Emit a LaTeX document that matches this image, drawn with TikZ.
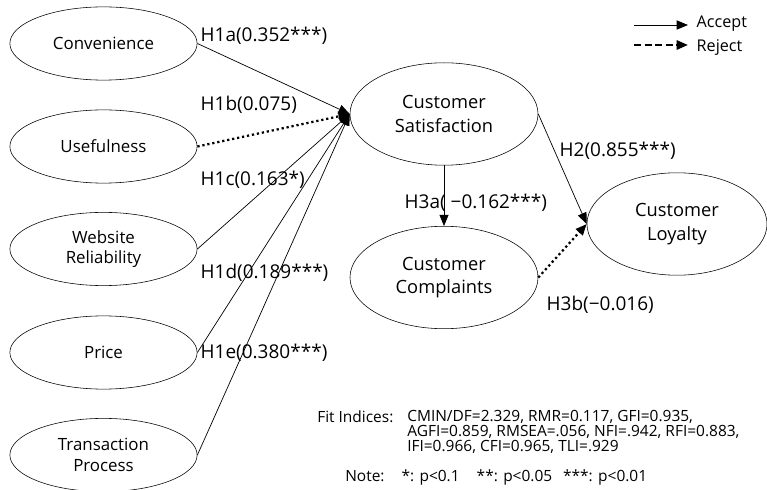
\documentclass[tikz,border=0pt]{standalone}
\usepackage{fontspec}
\setmainfont{Open Sans}
\usepackage{tikz}
\usetikzlibrary{arrows.meta,shapes.geometric}

\begin{document}
\begin{tikzpicture}[x=0.025cm, y=-0.025cm, >={Triangle[length=8pt, width=6.5pt]},
  construct/.style={draw, ellipse, inner sep=0pt, align=center, font=\fontsize{12}{14.5}\selectfont, minimum width=4.68cm, minimum height=1.83cm},
  bigconstruct/.style={construct, font=\fontsize{13}{16.5}\selectfont, minimum width=4.7cm, minimum height=2.56cm},
  path label/.style={anchor=west, inner sep=1pt, font=\fontsize{13.5}{16}\selectfont},
  legend label/.style={anchor=west, inner sep=1pt, font=\fontsize{11.5}{13}\selectfont},
  accept/.style={->, line width=0.5pt},
  reject/.style={->, line width=1.6pt, dotted}]
\useasboundingbox (0,0) rectangle (767,490);
% LEFT: antecedents
\node[construct] (conv) at (103.5,43.5) {Convenience};
\node[construct] (use) at (103.5,146.5) {Usefulness};
\node[construct] (web) at (103.5,249) {Website\\Reliability};
\node[construct] (price) at (103.5,352.5) {Price};
\node[construct] (trans) at (103.5,455) {Transaction\\Process};
% RIGHT: outcomes
\node[bigconstruct] (sat) at (444,114) {Customer\\Satisfaction};
\node[bigconstruct] (comp) at (444,277.5) {Customer\\Complaints};
\node[bigconstruct, minimum width=4.5cm] (loy) at (677,224) {Customer\\Loyalty};
% paths
\foreach \n in {conv,web,price,trans} {\draw[accept] (\n.east) -- (sat.west);}
\draw[reject] (use.east) -- (sat.west);
\draw[accept] (sat.south) -- (comp.north);
\draw[accept] (sat.east) -- (loy.west);
\draw[reject] (comp.east) -- (loy.west);
% path coefficients
\node[path label] (h1a) at (199,36) {H1a(0.352***)};
\node[path label] (h1b) at (199,105) {H1b(0.075)};
\node[path label] (h1c) at (199,180) {H1c(0.163*)};
\node[path label] (h1d) at (199,273) {H1d(0.189***)};
\node[path label] (h1e) at (199,353) {H1e(0.380***)};
\node[path label] (h2) at (558,151) {H2(0.855***)};
\node[path label] (h3a) at (403,203) {H3a( −0.162***)};
\node[path label] (h3b) at (545,305) {H3b(−0.016)};
% legend
\node[legend label] (acc) at (695,24) {Accept};
\node[legend label] (rej) at (695,48) {Reject};
\coordinate (acc0) at (634,25);
\coordinate (rej0) at (634,45);
\draw[->, line width=0.6pt, shorten >=5pt] (acc0) -- (acc0 -| acc.west);
\draw[->, line width=1.6pt, dash pattern=on 5pt off 2.5pt, shorten >=5pt] (rej0) -- (rej0 -| rej.west);
% fit indices and note
\node[anchor=west, inner sep=0pt, font=\fontsize{11}{12}\selectfont] (fitlbl) at (317,417) {Fit Indices:};
\node[anchor=north west, inner sep=0pt, align=left, font=\fontsize{11}{10.8}\selectfont] (fit) at (407,410) {CMIN/DF=2.329, RMR=0.117, GFI=0.935,\\AGFI=0.859, RMSEA=.056, NFI=.942, RFI=0.883,\\IFI=0.966, CFI=0.965, TLI=.929};
\node[anchor=west, inner sep=0pt, font=\fontsize{11}{12}\selectfont] (note) at (345,477) {Note:\hspace{1.1em}*: p<0.1\hspace{1.1em}**: p<0.05\hspace{0.7em}***: p<0.01};
\end{tikzpicture}
\end{document}
